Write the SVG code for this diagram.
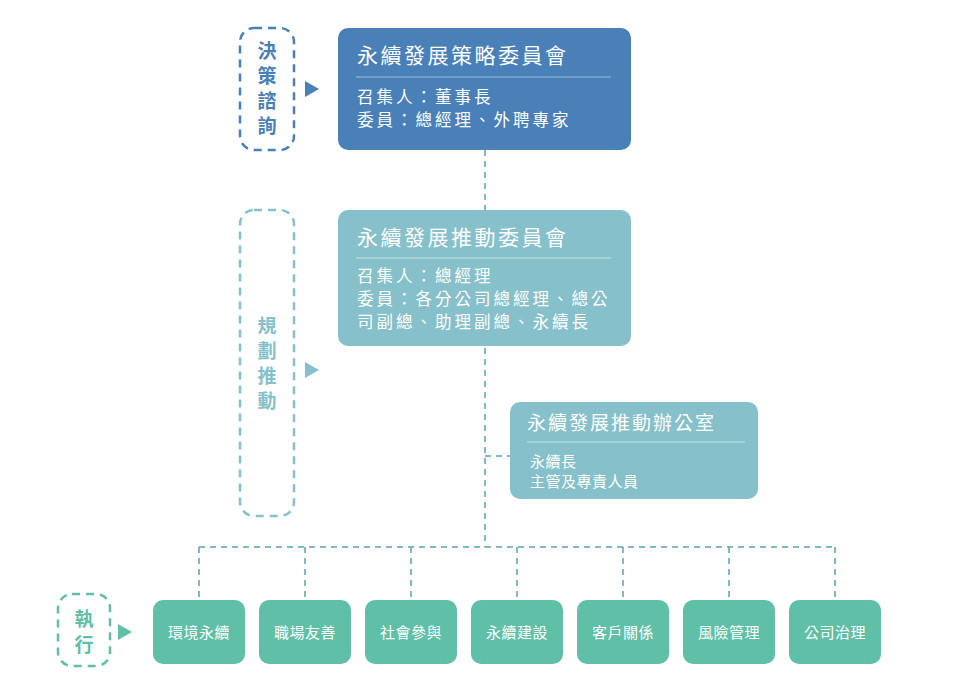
<svg xmlns="http://www.w3.org/2000/svg" width="956" height="698" viewBox="0 0 956 698">
<style>
text{font-family:"Noto Sans CJK TC","Noto Sans CJK SC",sans-serif;fill:#fff}
.t{font-size:21px;letter-spacing:2.5px}.s{font-size:16.5px;letter-spacing:3px}.b{font-size:15px;text-anchor:middle;letter-spacing:0.5px}
.c{fill:none;stroke:#5ba3b5;stroke-width:1.5;stroke-dasharray:6 5}
.g{fill:#5fbfa7}
.lab{font-size:19px;text-anchor:middle;font-weight:bold}
</style>
<rect width="956" height="698" fill="#fff"/>
<g id="connectors">
<path class="c" d="M485 150V547M199 547H835M199 547V600M305 547V600M411 547V600M517 547V600M623 547V600M729 547V600M835 547V600M485 456H510"/>
</g>
<g id="lab1">
<rect x="240" y="28" width="54" height="122" rx="14" fill="none" stroke="#4a80b8" stroke-width="2.5" stroke-dasharray="8 6"/>
<text class="lab" x="267" y="58" style="fill:#4a80b8">決</text><text class="lab" x="267" y="83" style="fill:#4a80b8">策</text><text class="lab" x="267" y="108" style="fill:#4a80b8">諮</text><text class="lab" x="267" y="133" style="fill:#4a80b8">詢</text>
<path d="M305 81L319 89L305 97Z" fill="#4a80b8"/>
</g>
<g id="lab2">
<rect x="240" y="210" width="54" height="306" rx="14" fill="none" stroke="#85c1cc" stroke-width="2.5" stroke-dasharray="8 6"/>
<text class="lab" x="267" y="333" style="fill:#85c1cc">規</text><text class="lab" x="267" y="358" style="fill:#85c1cc">劃</text><text class="lab" x="267" y="383" style="fill:#85c1cc">推</text><text class="lab" x="267" y="408" style="fill:#85c1cc">動</text>
<path d="M305 362L319 370L305 378Z" fill="#85c1cc"/>
</g>
<g id="lab3">
<rect x="58" y="594" width="52" height="72" rx="14" fill="none" stroke="#5fbfa7" stroke-width="2.5" stroke-dasharray="8 6"/>
<text class="lab" x="84" y="626" style="fill:#5fbfa7">執</text><text class="lab" x="84" y="652" style="fill:#5fbfa7">行</text>
<path d="M118 624L132 632L118 640Z" fill="#5fbfa7"/>
</g>
<g id="n1">
<rect x="338" y="28" width="293" height="122" rx="10" fill="#4a80b8"/>
<text class="t" x="357" y="63">永續發展策略委員會</text>
<line x1="356" y1="77" x2="611" y2="77" stroke="#9bbbe0"/>
<text class="s" x="357" y="103">召集人：董事長</text>
<text class="s" x="357" y="126">委員：總經理、外聘專家</text>
</g>
<g id="n2">
<rect x="338" y="210" width="293" height="136" rx="10" fill="#86c0ca"/>
<text class="t" x="357" y="245">永續發展推動委員會</text>
<line x1="356" y1="258" x2="611" y2="258" stroke="#c4e2e8"/>
<text class="s" x="357" y="282">召集人：總經理</text>
<text class="s" x="357" y="305">委員：各分公司總經理、總公</text>
<text class="s" x="357" y="328">司副總、助理副總、永續長</text>
</g>
<g id="n3">
<rect x="510" y="402" width="248" height="97" rx="10" fill="#86c0ca"/>
<text class="t" x="527" y="430" style="font-size:19px;letter-spacing:2px">永續發展推動辦公室</text>
<line x1="527" y1="442" x2="745" y2="442" stroke="#c4e2e8"/>
<text x="530" y="467" style="font-size:15px;letter-spacing:0.5px">永續長</text>
<text x="530" y="487" style="font-size:15px;letter-spacing:0.5px">主管及專責人員</text>
</g>
<g id="e1"><rect class="g" x="153" y="600" width="92" height="64" rx="10"/><text class="b" x="199" y="638">環境永續</text></g>
<g id="e2"><rect class="g" x="259" y="600" width="92" height="64" rx="10"/><text class="b" x="305" y="638">職場友善</text></g>
<g id="e3"><rect class="g" x="365" y="600" width="92" height="64" rx="10"/><text class="b" x="411" y="638">社會參與</text></g>
<g id="e4"><rect class="g" x="471" y="600" width="92" height="64" rx="10"/><text class="b" x="517" y="638">永續建設</text></g>
<g id="e5"><rect class="g" x="577" y="600" width="92" height="64" rx="10"/><text class="b" x="623" y="638">客戶關係</text></g>
<g id="e6"><rect class="g" x="683" y="600" width="92" height="64" rx="10"/><text class="b" x="729" y="638">風險管理</text></g>
<g id="e7"><rect class="g" x="789" y="600" width="92" height="64" rx="10"/><text class="b" x="835" y="638">公司治理</text></g>
</svg>
